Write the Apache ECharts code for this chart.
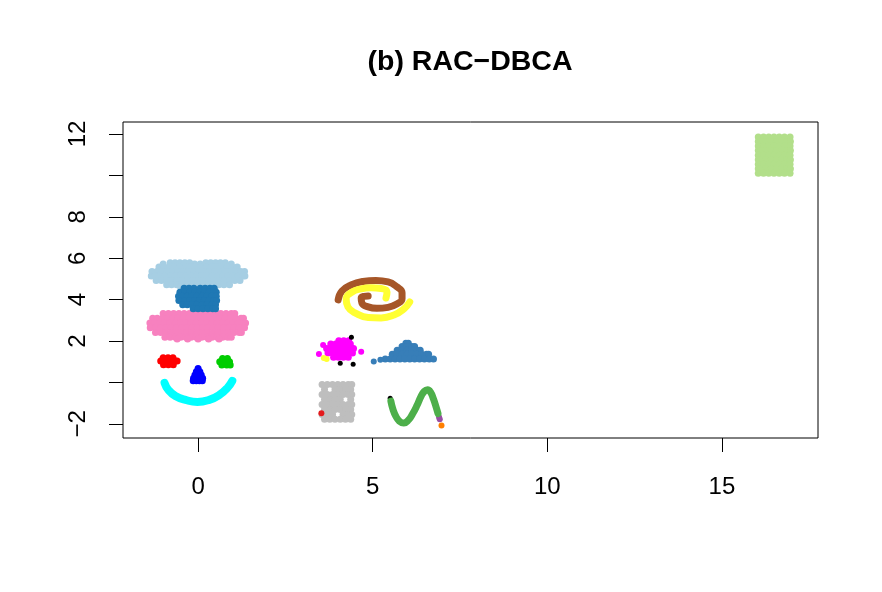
<!DOCTYPE html>
<html>
<head>
<meta charset="utf-8">
<script src="https://cdn.jsdelivr.net/npm/echarts@6/dist/echarts.min.js"></script>
<style>
  html, body { margin: 0; padding: 0; background: #fff; }
  #chart { width: 882px; height: 592px; }
</style>
</head>
<body>
<div id="chart"></div>
<script>
// axis ticks and labels
const xTicks = [0, 5, 10, 15];
const yTicks = [-2, 0, 2, 4, 6, 8, 10, 12];
const yTickLabels = [-2, 2, 4, 6, 8, 12];

// blobs, given as rows: [y, [x, x, ...]]
const lightBlueRows = [
  [5.78, [-0.8, -0.66, -0.52, -0.38, -0.24, 0.22, 0.36, 0.5, 0.64, 0.78]],
  [5.72, [-1.0, -0.1, 0.06, 0.95]],
  [5.58, [-1.12, -0.97, -0.82, -0.67, -0.52, -0.37, -0.22, -0.07, 0.08, 0.23, 0.38, 0.53, 0.68, 0.83, 0.98, 1.12]],
  [5.36, [-1.32, -1.18, -1.03, -0.88, -0.73, -0.58, -0.43, -0.28, -0.13, 0.02, 0.17, 0.32, 0.47, 0.62, 0.77, 0.92, 1.07, 1.22, 1.33]],
  [5.14, [-1.34, -1.25, -1.1, -0.95, -0.8, -0.65, -0.5, -0.35, -0.2, -0.05, 0.1, 0.25, 0.4, 0.55, 0.7, 0.85, 1.0, 1.15, 1.28, 1.34]],
  [4.92, [-1.2, -1.05, -0.9, -0.75, -0.6, -0.45, -0.3, -0.15, 0.0, 0.15, 0.3, 0.45, 0.6, 0.75, 0.9, 1.05, 1.2]],
  [4.72, [-0.9, -0.76, -0.61, -0.46, -0.31, -0.16, -0.01, 0.14, 0.29, 0.44, 0.59, 0.74, 0.9]],
  [4.60, [-0.5, -0.36, -0.22, -0.08, 0.06, 0.2, 0.34, 0.48]]
];
const darkBlueRows = [
  [4.55, [-0.4, -0.26, -0.12, 0.06, 0.2, 0.34, 0.46]],
  [4.36, [-0.52, -0.38, -0.24, -0.1, 0.04, 0.18, 0.32, 0.46, 0.52]],
  [4.16, [-0.56, -0.45, -0.31, -0.17, -0.03, 0.11, 0.25, 0.39, 0.52]],
  [3.96, [-0.55, -0.38, -0.24, -0.1, 0.04, 0.18, 0.32, 0.46, 0.53]],
  [3.76, [-0.44, -0.31, -0.17, -0.03, 0.11, 0.25, 0.39, 0.5]],
  [3.56, [-0.14, 0.0, 0.14, 0.28, 0.42, 0.5]]
];
const pinkRows = [
  [3.33, [-1.0, -0.85, -0.7, -0.55, -0.4, -0.25, -0.1, 0.05, 0.2, 0.35, 0.5, 0.65, 0.8, 0.95, 1.05]],
  [3.10, [-1.3, -1.17, -1.02, -0.87, -0.72, -0.57, -0.42, -0.27, -0.12, 0.03, 0.18, 0.33, 0.48, 0.63, 0.78, 0.93, 1.08, 1.23, 1.3]],
  [2.87, [-1.38, -1.25, -1.1, -0.95, -0.8, -0.65, -0.5, -0.35, -0.2, -0.05, 0.1, 0.25, 0.4, 0.55, 0.7, 0.85, 1.0, 1.15, 1.3, 1.36]],
  [2.64, [-1.37, -1.22, -1.07, -0.92, -0.77, -0.62, -0.47, -0.32, -0.17, -0.02, 0.13, 0.28, 0.43, 0.58, 0.73, 0.88, 1.03, 1.18, 1.33]],
  [2.41, [-1.22, -1.07, -0.92, -0.77, -0.62, -0.47, -0.32, -0.17, -0.02, 0.13, 0.28, 0.43, 0.58, 0.73, 0.88, 1.03, 1.18, 1.24]],
  [2.18, [-0.95, -0.8, -0.65, -0.5, -0.35, -0.2, -0.05, 0.1, 0.25, 0.4, 0.55, 0.7, 0.85, 0.95]],
  [2.10, [-0.6, -0.3, 0.0, 0.3, 0.6]]
];
const redEyeRows = [
  [1.20, [-1.0, -0.86, -0.72]],
  [1.04, [-1.07, -0.93, -0.79, -0.65, -0.6]],
  [0.86, [-0.99, -0.85, -0.71]]
];
const greenEyeRows = [
  [1.16, [0.7, 0.84]],
  [1.00, [0.62, 0.76, 0.9]],
  [0.84, [0.68, 0.82, 0.92]]
];
const noseRows = [
  [0.68, [0.0]],
  [0.52, [-0.05, 0.05]],
  [0.36, [-0.09, 0.0, 0.09]],
  [0.20, [-0.13, -0.04, 0.05, 0.13]],
  [0.09, [-0.14, -0.05, 0.04, 0.12]]
];
const magentaRows = [
  [2.02, [4.03, 4.17, 4.31]],
  [1.86, [3.8, 3.94, 4.08, 4.22, 4.36]],
  [1.64, [3.68, 3.82, 3.96, 4.1, 4.24, 4.38, 4.45]],
  [1.42, [3.72, 3.86, 4.0, 4.14, 4.28, 4.42]],
  [1.22, [3.88, 4.02, 4.16, 4.3]]
];
const steelBlueRows = [
  [1.90, [5.95, 6.02]],
  [1.74, [5.84, 5.98, 6.12, 6.2]],
  [1.56, [5.7, 5.84, 5.98, 6.12, 6.26, 6.36]],
  [1.36, [5.56, 5.7, 5.84, 5.98, 6.12, 6.26, 6.4, 6.54, 6.6]],
  [1.14, [5.36, 5.5, 5.64, 5.78, 5.92, 6.06, 6.2, 6.34, 6.48, 6.62, 6.74]]
];
const grayRows = [
  [-0.10, [3.55, 3.7, 3.85, 4.0, 4.15, 4.3, 4.4]],
  [-0.34, [3.62, 3.92, 4.07, 4.22, 4.37]],
  [-0.58, [3.55, 3.7, 3.85, 4.0, 4.15, 4.3, 4.4]],
  [-0.82, [3.62, 3.77, 3.92, 4.07, 4.37]],
  [-1.06, [3.55, 3.7, 3.85, 4.0, 4.15, 4.3, 4.4]],
  [-1.30, [3.62, 3.77, 3.92, 4.07, 4.22, 4.37]],
  [-1.54, [3.55, 3.7, 3.85, 4.15, 4.3, 4.4]],
  [-1.78, [3.62, 3.77, 3.92, 4.07, 4.22, 4.37]]
];
const lightGreenRows = [
  [11.86, [16.04, 16.19, 16.34, 16.49, 16.64, 16.79, 16.95]],
  [11.64, [16.04, 16.11, 16.26, 16.41, 16.56, 16.71, 16.86, 16.96]],
  [11.42, [16.04, 16.19, 16.34, 16.49, 16.64, 16.79, 16.95]],
  [11.20, [16.04, 16.11, 16.26, 16.41, 16.56, 16.71, 16.86, 16.96]],
  [10.98, [16.04, 16.19, 16.34, 16.49, 16.64, 16.79, 16.95]],
  [10.76, [16.04, 16.11, 16.26, 16.41, 16.56, 16.71, 16.86, 16.96]],
  [10.54, [16.04, 16.19, 16.34, 16.49, 16.64, 16.79, 16.95]],
  [10.32, [16.04, 16.11, 16.26, 16.41, 16.56, 16.71, 16.86, 16.96]],
  [10.10, [16.04, 16.19, 16.34, 16.49, 16.64, 16.79, 16.95]]
];

// thin shapes, as point paths
const smilePath = [[-0.96, -0.02], [-0.85, -0.36], [-0.65, -0.65], [-0.36, -0.84], [-0.02, -0.94],
  [0.32, -0.84], [0.61, -0.6], [0.84, -0.26], [0.98, 0.08]];
const brownSpiral = [[4.01, 3.99], [4.12, 4.42], [4.38, 4.71], [4.72, 4.88], [5.09, 4.93], [5.44, 4.86],
  [5.69, 4.62], [5.84, 4.33], [5.84, 4.04], [5.69, 3.79], [5.44, 3.63], [5.12, 3.58], [4.87, 3.65],
  [4.69, 3.84], [4.67, 4.08], [4.75, 4.16], [4.87, 4.18]];
const yellowSpiral = [[5.38, 4.08], [5.41, 4.37], [5.24, 4.54], [4.95, 4.57], [4.67, 4.52], [4.41, 4.37],
  [4.24, 4.04], [4.29, 3.65], [4.52, 3.34], [4.87, 3.14], [5.24, 3.12], [5.61, 3.26], [5.89, 3.55], [6.06, 3.89]];
const sinePath = [[5.52, -0.9], [5.58, -1.3], [5.66, -1.62], [5.76, -1.86], [5.89, -1.96], [6.02, -1.82],
  [6.14, -1.52], [6.27, -1.1], [6.38, -0.68], [6.48, -0.42], [6.57, -0.35], [6.66, -0.48], [6.74, -0.8],
  [6.81, -1.16], [6.87, -1.5]];

// single points
const magentaStray = [[3.46, 1.38], [3.58, 1.81], [4.67, 1.49]];
const yellowBits = [[3.6, 1.18], [3.68, 1.14]];
const steelBlueTail = [[5.03, 1.02], [5.22, 1.1]];
const blackDots = [[4.39, 2.19], [4.07, 0.93], [4.44, 0.88], [5.5, -0.76]];
const redBit = [[3.53, -1.48]];
const purpleDots = [[6.9, -1.68], [6.92, -1.78]];
const orangeDots = [[6.97, -2.08]];

const rowsToPoints = rows => rows.flatMap(([y, xs]) => xs.map(x => [x, y]));

const chart = echarts.init(document.getElementById('chart'));
const FONT = 'Liberation Sans';

const dots = (data, color, size) => ({
  type: 'scatter',
  data,
  symbol: 'circle',
  symbolSize: size || 7,
  itemStyle: { color, opacity: 1 },
  emphasis: { disabled: true },
  silent: true
});
const stroke = (data, color, width) => ({
  type: 'line',
  data,
  smooth: true,
  showSymbol: false,
  symbol: 'none',
  lineStyle: { color, width, cap: 'round', join: 'round' },
  emphasis: { disabled: true },
  silent: true
});

const minus = v => (v < 0 ? '\u2212' + Math.abs(v) : String(v));

chart.setOption({
  animation: false,
  backgroundColor: '#fff',
  title: {
    text: '(b) RAC\u2212DBCA',
    left: 465,
    top: 43,
    textAlign: 'center',
    textStyle: { fontFamily: FONT, fontWeight: 'bold', fontSize: 28.5, color: '#000' }
  },
  grid: {
    left: 123, right: 64, top: 122, bottom: 154,
    show: true, borderColor: '#000', borderWidth: 1,
    outerBoundsMode: 'none'
  },
  xAxis: {
    type: 'value',
    min: -2.15, max: 17.75,
    splitLine: { show: false },
    axisLine: { show: false, onZero: false },
    axisTick: { show: true, length: 14, customValues: xTicks, lineStyle: { color: '#000', width: 1 } },
    axisLabel: { customValues: xTicks, margin: 37, fontFamily: FONT, fontSize: 24, color: '#000', formatter: minus }
  },
  yAxis: {
    type: 'value',
    min: -2.68, max: 12.58,
    splitLine: { show: false },
    axisLine: { show: false, onZero: false },
    axisTick: { show: true, length: 14, customValues: yTicks, lineStyle: { color: '#000', width: 1 } },
    axisLabel: { customValues: yTickLabels, rotate: 90, margin: 33, fontFamily: FONT, fontSize: 24, color: '#000', formatter: minus }
  },
  series: [
    dots(rowsToPoints(lightBlueRows), '#A6CEE3'),
    dots(rowsToPoints(pinkRows), '#F781BF'),
    dots(rowsToPoints(darkBlueRows), '#1F78B4'),
    dots(rowsToPoints(redEyeRows), '#FF0000'),
    dots(rowsToPoints(greenEyeRows), '#00CD00'),
    dots(rowsToPoints(noseRows), '#0000FF'),
    stroke(smilePath, '#00FFFF', 8),
    stroke(brownSpiral, '#A65628', 7),
    stroke(yellowSpiral, '#FFFF33', 7),
    dots(rowsToPoints(magentaRows), '#FF00FF'),
    dots(magentaStray, '#FF00FF', 6),
    dots(yellowBits, '#FFFF33', 6),
    dots(rowsToPoints(steelBlueRows), '#377EB8'),
    dots(steelBlueTail, '#377EB8', 6),
    dots(rowsToPoints(grayRows), '#BEBEBE'),
    dots(redBit, '#E41A1C', 6),
    stroke(sinePath, '#4DAF4A', 7),
    dots(purpleDots, '#984EA3', 6),
    dots(orangeDots, '#FF7F00', 6),
    dots(blackDots, '#000000', 5),
    dots(rowsToPoints(lightGreenRows), '#B2DF8A')
  ]
});
</script>
</body>
</html>
